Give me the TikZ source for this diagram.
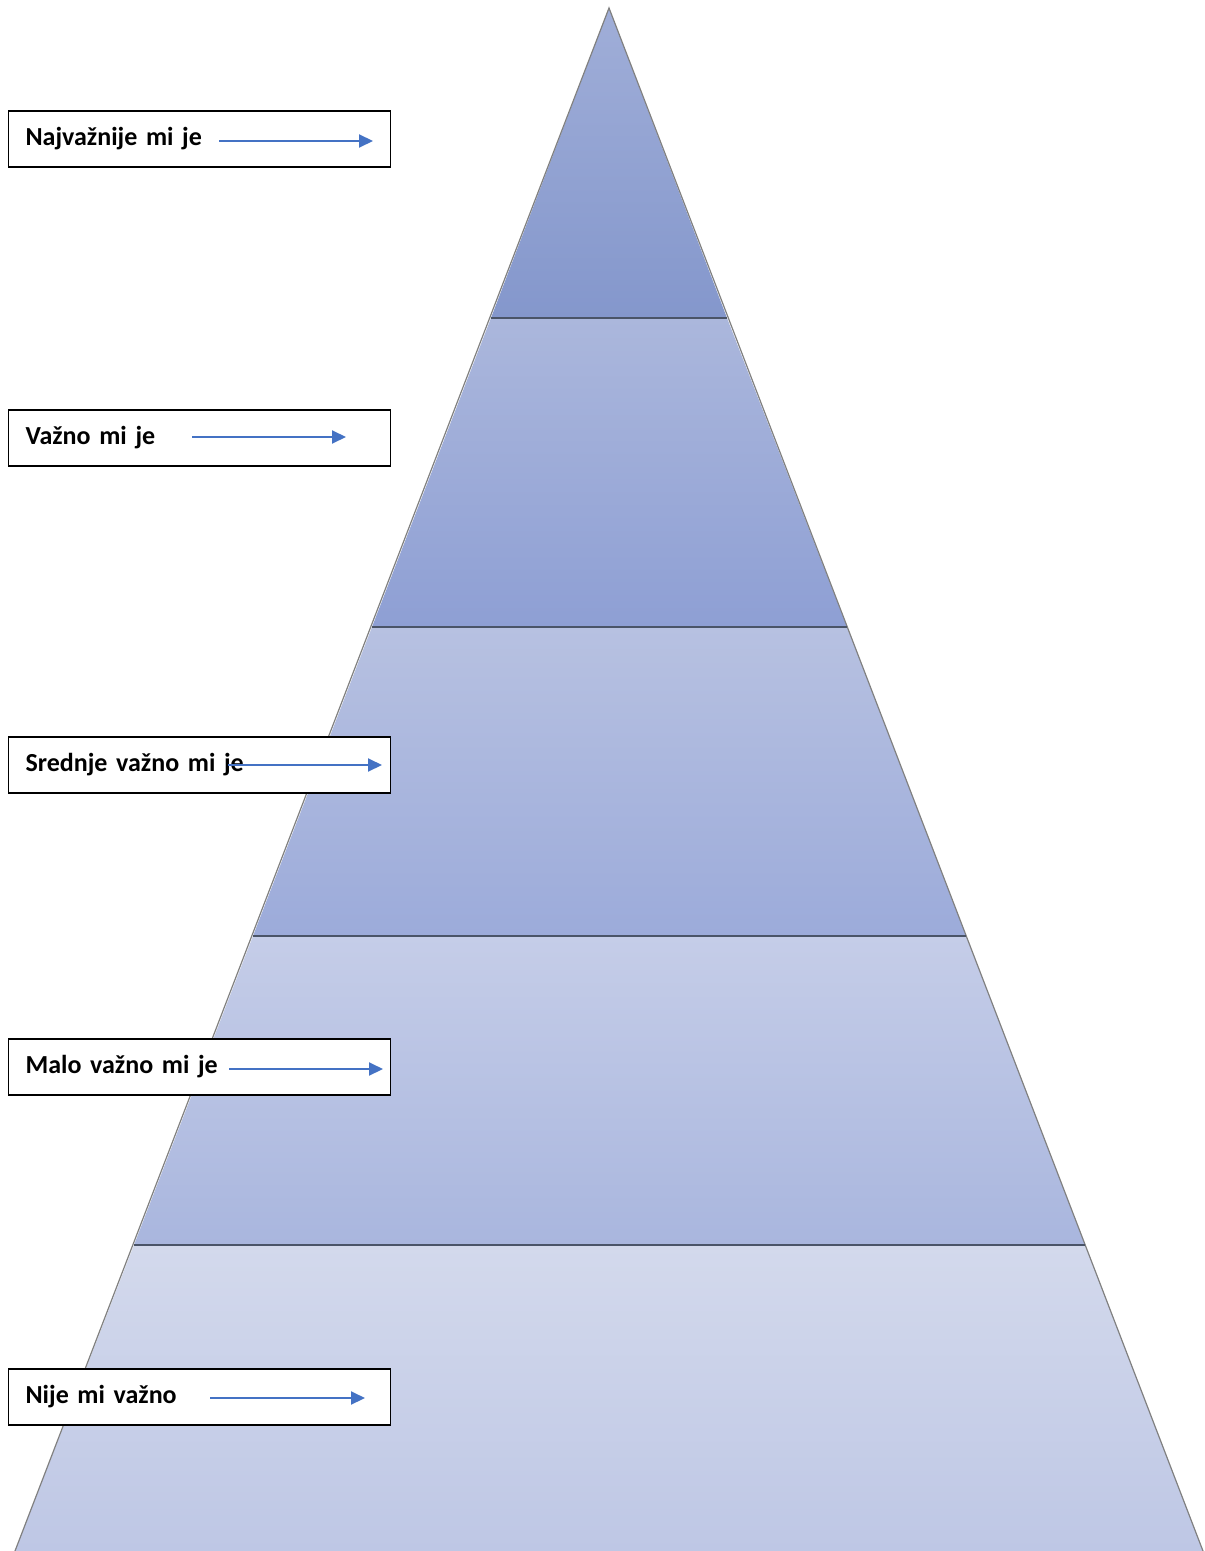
\documentclass[tikz,border=0pt]{standalone}
\usepackage{fontspec}
\setmainfont{Carlito}
\usetikzlibrary{arrows.meta}
\definecolor{layAtop}{HTML}{A0AED8}
\definecolor{layAbot}{HTML}{8497CC}
\definecolor{layBtop}{HTML}{ABB7DC}
\definecolor{layBbot}{HTML}{8E9FD4}
\definecolor{layCtop}{HTML}{B7C1E1}
\definecolor{layCbot}{HTML}{9CABDA}
\definecolor{layDtop}{HTML}{C5CDE8}
\definecolor{layDbot}{HTML}{A9B6DE}
\definecolor{layEtop}{HTML}{D3D9EC}
\definecolor{layEbot}{HTML}{BEC7E5}
\definecolor{arrowblue}{HTML}{4472C4}
\definecolor{lineslate}{HTML}{4A5468}
\newcommand*{\lblfont}{\bfseries\fontsize{13}{16}\selectfont}

\begin{document}
\begin{tikzpicture}[x=0.5pt,y=-0.5pt,font=\lblfont,
    labelbox/.style={draw=black, fill=white, line width=0.6pt, anchor=west, text width=174pt,
                     inner xsep=8.5pt, inner ysep=0pt, minimum height=28pt, align=left},
    pointer/.style={draw=arrowblue, line width=1pt, -{Triangle[length=7pt,width=6.5pt]}},
    levelline/.style={draw=lineslate, line width=0.8pt},
    sideline/.style={draw=gray, line width=0.6pt}]
    \useasboundingbox (0,0) rectangle (1204,1551);
    % pyramid layers
    \shade [top color=layAtop, bottom color=layAbot] (609,8) -- (727,318) -- (491,318) -- cycle;
    \shade [top color=layBtop, bottom color=layBbot] (491,318) -- (727,318) -- (847,627) -- (372,627) -- cycle;
    \shade [top color=layCtop, bottom color=layCbot] (372,627) -- (847,627) -- (966,936) -- (253,936) -- cycle;
    \shade [top color=layDtop, bottom color=layDbot] (253,936) -- (966,936) -- (1085,1245) -- (134,1245) -- cycle;
    \shade [top color=layEtop, bottom color=layEbot] (134,1245) -- (1085,1245) -- (1203,1551) -- (15,1551) -- cycle;
    \draw [sideline] (15,1551) -- (609,8) -- (1203,1551);
    \draw [levelline] (491,318) -- (727,318);
    \draw [levelline] (372,627) -- (847,627);
    \draw [levelline] (253,936) -- (966,936);
    \draw [levelline] (134,1245) -- (1085,1245);
    % labels
    \node [labelbox] (najvaznije) at (8,139)  {Najvažnije mi je};
    \node [labelbox] (vazno)      at (8,438)  {Važno mi je};
    \node [labelbox] (srednje)    at (8,765)  {Srednje važno mi je};
    \node [labelbox] (malo)       at (8,1067) {Malo važno mi je};
    \node [labelbox] (nije)       at (8,1397) {Nije mi važno};
    % arrows
    \coordinate (najvaznijeS) at (219,141);  \coordinate (najvaznijeE) at (373,141);
    \coordinate (vaznoS)      at (192,437);  \coordinate (vaznoE)      at (346,437);
    \coordinate (srednjeS)    at (228,765);  \coordinate (srednjeE)    at (382,765);
    \coordinate (maloS)       at (229,1069); \coordinate (maloE)       at (383,1069);
    \coordinate (nijeS)       at (210,1398); \coordinate (nijeE)       at (365,1398);
    \draw [pointer] (najvaznijeS) -- (najvaznijeE);
    \draw [pointer] (vaznoS) -- (vaznoE);
    \draw [pointer] (srednjeS) -- (srednjeE);
    \draw [pointer] (maloS) -- (maloE);
    \draw [pointer] (nijeS) -- (nijeE);
\end{tikzpicture}
\end{document}
